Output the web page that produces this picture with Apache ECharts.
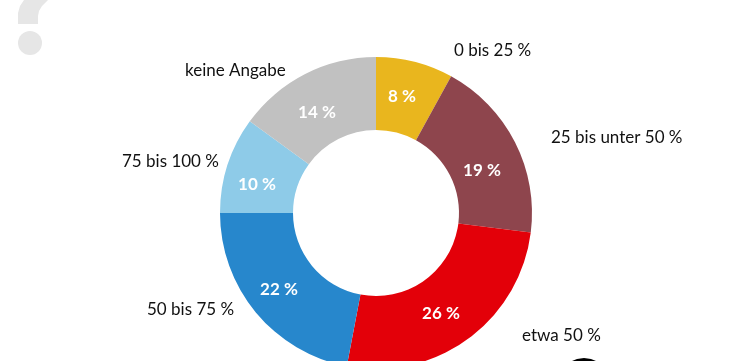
<!DOCTYPE html>
<html><head><meta charset="utf-8">
<style>html,body{margin:0;padding:0;background:#fff}#c{width:750px;height:361px}</style>
<script src="https://cdn.jsdelivr.net/npm/echarts@6/dist/echarts.min.js"></script>
</head><body><div id="c"></div>
<script>
const categories = ['0 bis 25 %','25 bis unter 50 %','etwa 50 %','50 bis 75 %','75 bis 100 %','keine Angabe'];
const arcShares = [8,19,26,22,10,15];
const printedLabels = ['8 %','19 %','26 %','22 %','10 %','14 %'];
const colors = ['#E9B61E','#8E454D','#E30009','#2787CC','#8ECBE8','#C1C1C1'];
const font = 'Lato';
const namePos = [[454,51],[551,138],[522,336],[147,310],[122,162],[185,71]];
const insidePos = [[402,97],[482,171],[441,314],[279,290],[257,185],[317,113]];
const chart = echarts.init(document.getElementById('c'));
const center = [376,213];
chart.setOption({
  animation:false,
  graphic:[
    {type:'polygon',silent:true,shape:{points:[[24,0],[20,6],[18,13],[18,24],[38,24],[38,16],[39,11],[42,6],[48,0]]},style:{fill:'#E6E6E6'},z:0},
    {type:'circle',silent:true,shape:{cx:30,cy:43,r:12},style:{fill:'#E6E6E6'},z:0},
    {type:'polygon',silent:true,shape:{points:[[572,361],[577,359],[584,358],[591,359],[596,361]]},style:{fill:'#000'},z:0}
  ],
  series:[
    {type:'pie',center,radius:[83,156],startAngle:90,clockwise:true,silent:true,
     data:categories.map((n,i)=>({name:n,value:arcShares[i],itemStyle:{color:colors[i]}})),
     label:{position:'inside',formatter:p=>printedLabels[p.dataIndex],color:'#fff',fontFamily:font,fontWeight:'bold',fontSize:17},
     labelLine:{show:false},
     labelLayout:p=>{const q=insidePos[p.dataIndex];return {x:q[0],y:q[1],align:'center',verticalAlign:'middle',hideOverlap:false,moveOverlap:false};}},
    {type:'pie',center,radius:[83,156],startAngle:90,clockwise:true,silent:true,z:1,
     data:categories.map((n,i)=>({name:n,value:arcShares[i],itemStyle:{color:'transparent'}})),
     label:{position:'outside',formatter:'{b}',color:'#111',fontFamily:font,fontSize:17},
     labelLine:{show:false},
     labelLayout:p=>{const q=namePos[p.dataIndex];return {x:q[0],y:q[1],align:'left',verticalAlign:'middle',hideOverlap:false,moveOverlap:false};}}
  ]
});
</script></body></html>
